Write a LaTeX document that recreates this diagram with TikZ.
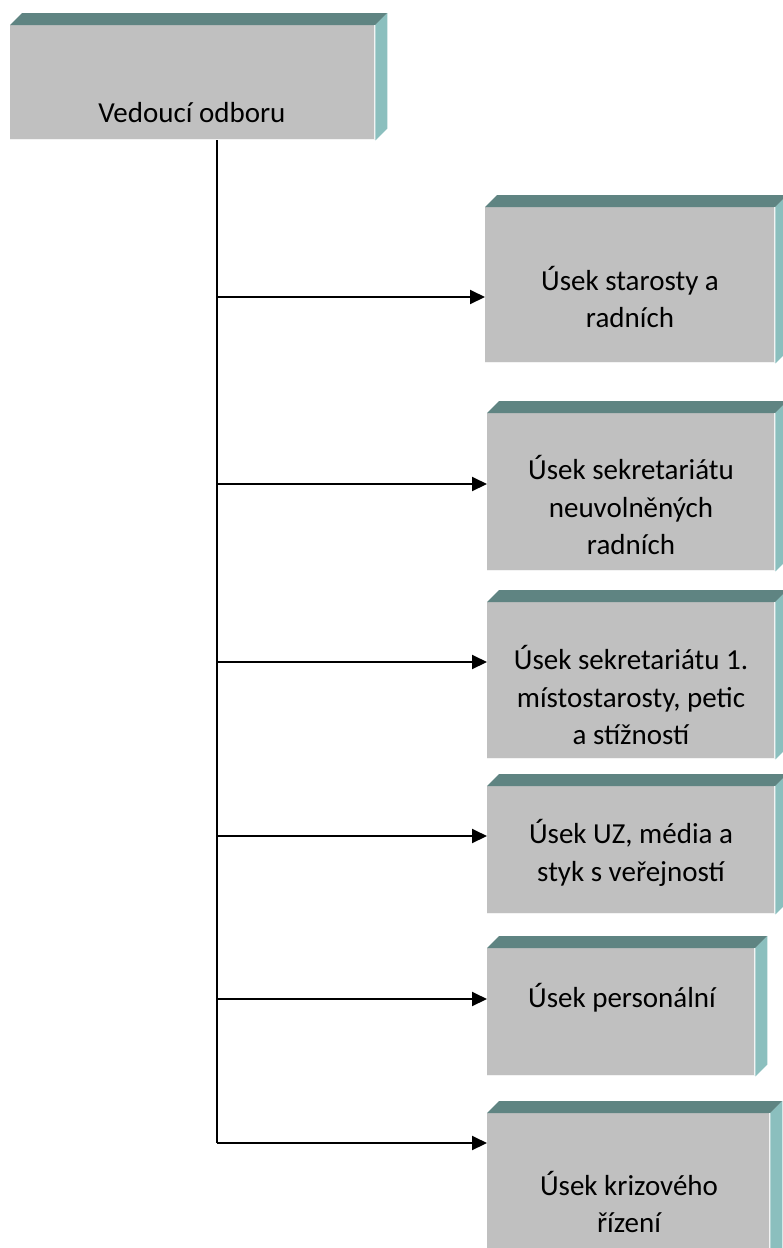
\documentclass[tikz,border=0pt]{standalone}
\usepackage{fontspec}
\setmainfont{Carlito}
\usetikzlibrary{arrows.meta,positioning,calc}
\definecolor{frontgray}{HTML}{C0C0C0}
\definecolor{topteal}{HTML}{5F8482}
\definecolor{sideteal}{HTML}{8BBFBE}

% top and right faces of a unit box
\newcommand{\bevelbox}[1]{%
  \fill[topteal] (#1.north west) -- ++(12,-12) -- ($(#1.north east)+(12,-12)$)
    -- (#1.north east) -- cycle;
  \fill[sideteal] (#1.north east) -- ++(12,-12) -- ($(#1.south east)+(12,-12)$)
    -- (#1.south east) -- cycle;
  \draw[white!80!frontgray,line width=1.5pt]
    ([yshift=1pt]#1.south west) -- ([xshift=-1pt,yshift=1pt]#1.south east)
    -- ([xshift=-1pt]#1.north east);
}

\begin{document}
\begin{tikzpicture}[x=1pt,y=-1pt,
  unit/.style={rectangle,fill=frontgray,inner sep=0pt,anchor=north west},
  txt/.style={font=\fontsize{29}{37.5}\selectfont,align=center,inner sep=0pt},
  arr/.style={line width=2pt,-{Triangle[length=15pt,width=14pt]}}
]
\useasboundingbox (0,0) rectangle (783,1248);
\clip (0,0) rectangle (783,1248);

% ---- Head of department ------------------------------------
\node[unit,minimum width=365pt,minimum height=115pt] (head) at (10,25) {};
\bevelbox{head}
\node[txt] (headt) at (192,113) {Vedoucí odboru};

% ---- Sections ----------------------------------------------
\node[unit,minimum width=290pt,minimum height=156pt] (b1) at (485,207) {};
\bevelbox{b1}
\node[txt] (t1) at (630,297) {Úsek starosty a\\radních};

\node[unit,minimum width=288pt,minimum height=158pt] (b2) at (487,413) {};
\bevelbox{b2}
\node[txt] (t2) at (631,505) {Úsek sekretariátu\\neuvolněných\\radních};

\node[unit,minimum width=288pt,minimum height=157pt] (b3) at (487,602) {};
\bevelbox{b3}
\node[txt] (t3) at (631,695) {Úsek sekretariátu 1.\\místostarosty, petic\\a stížností};

\node[unit,minimum width=288pt,minimum height=128pt] (b4) at (487,786) {};
\bevelbox{b4}
\node[txt] (t4) at (631,853) {Úsek UZ, média a\\styk s veřejností};

\node[unit,minimum width=268pt,minimum height=128pt] (b5) at (487,948) {};
\bevelbox{b5}
\node[txt] (t5) at (622,998) {Úsek personální};

\node[unit,minimum width=283pt,minimum height=160pt] (b6) at (487,1113) {};
\bevelbox{b6}
\node[txt] (t6) at (629,1202) {Úsek krizového\\řízení};

% ---- Spine and arrows --------------------------------------
\coordinate (top) at (217,140);
\coordinate (s1) at (217,297);
\coordinate (s2) at (217,484);
\coordinate (s3) at (217,662);
\coordinate (s4) at (217,836);
\coordinate (s5) at (217,999);
\coordinate (s6) at (217,1143);

\draw[line width=2pt] (top) -- (s6);
\draw[arr] (s1) -- (s1 -| b1.west);
\draw[arr] (s2) -- (s2 -| b2.west);
\draw[arr] (s3) -- (s3 -| b3.west);
\draw[arr] (s4) -- (s4 -| b4.west);
\draw[arr] (s5) -- (s5 -| b5.west);
\draw[arr] (s6) -- (s6 -| b6.west);

\end{tikzpicture}
\end{document}
